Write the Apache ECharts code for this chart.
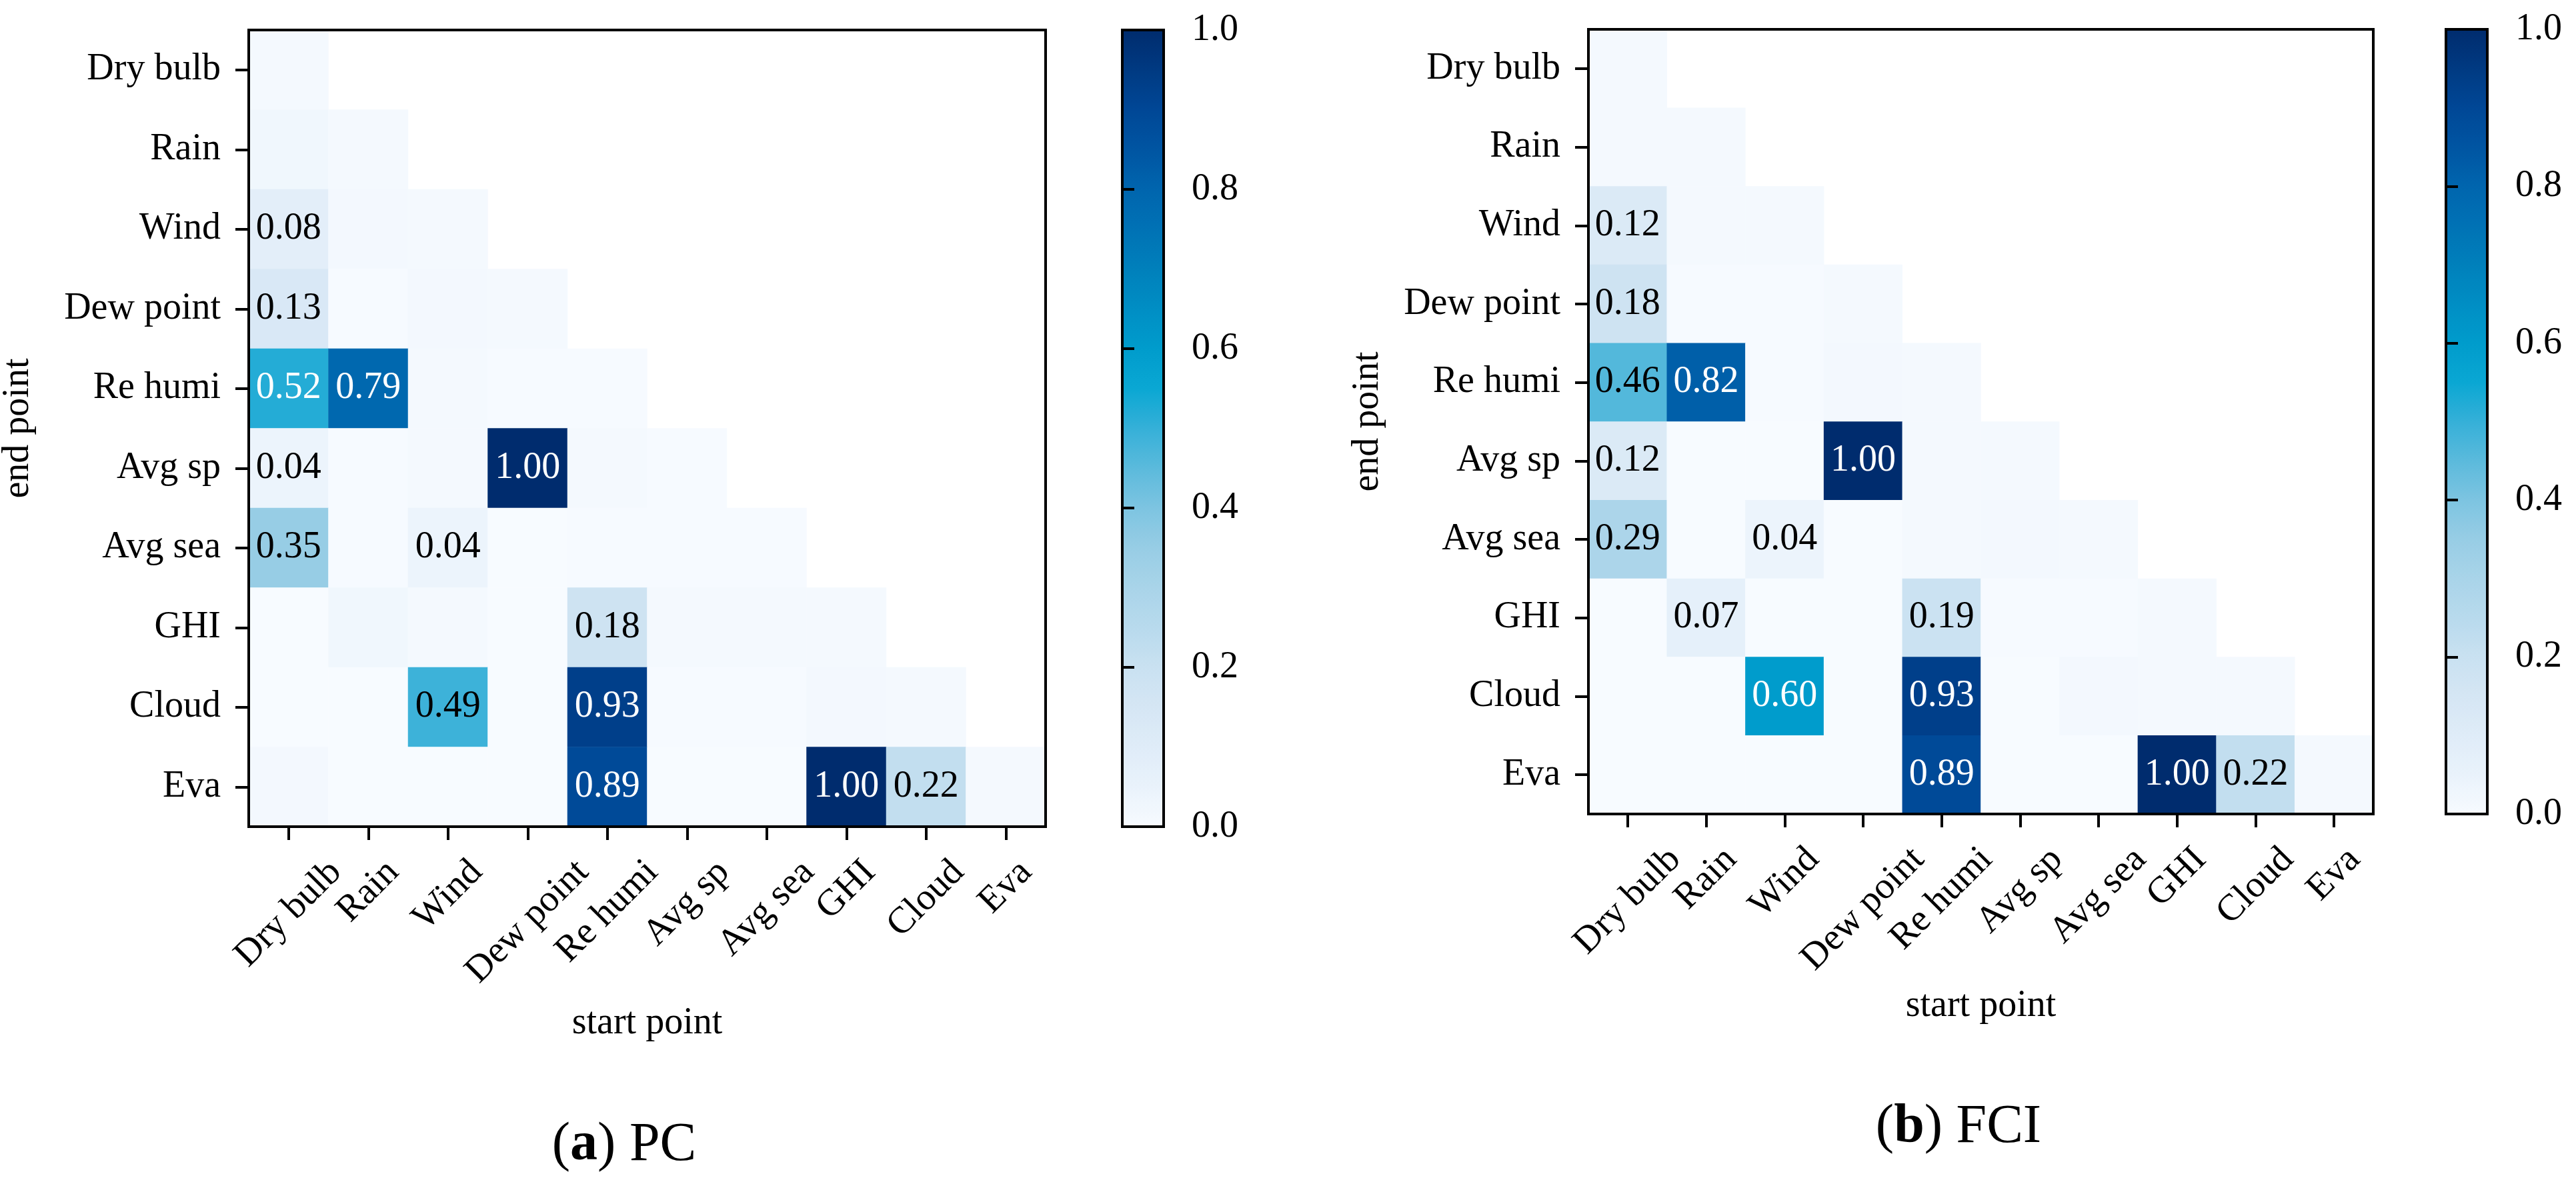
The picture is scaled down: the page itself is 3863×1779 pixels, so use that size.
<!DOCTYPE html>
<html><head><meta charset="utf-8">
<script src="https://cdn.jsdelivr.net/npm/echarts@6/dist/echarts.min.js"></script>
<style>html,body{margin:0;padding:0;background:#fff}#c{width:3863px;height:1779px}</style>
</head><body><div id="c"></div>
<script>
// ---------------- data ----------------
const categories = ['Dry bulb', 'Rain', 'Wind', 'Dew point', 'Re humi', 'Avg sp', 'Avg sea', 'GHI', 'Cloud', 'Eva'];

// lower-triangular matrices: row = end point, column = start point
const pcValues = [
  [0.01],
  [0.025, 0.01],
  [0.08, 0.015, 0.01],
  [0.13, 0.005, 0.015, 0.01],
  [0.52, 0.79, 0.01, 0.005, 0.005],
  [0.04, 0.005, 0.01, 1.00, 0.01, 0.005],
  [0.35, 0.005, 0.04, 0.0, 0.005, 0.005, 0.005],
  [0.0, 0.025, 0.01, 0.0, 0.18, 0.01, 0.01, 0.01],
  [0.0, 0.0, 0.49, 0.0, 0.93, 0.005, 0.005, 0.015, 0.01],
  [0.015, 0.0, 0.0, 0.0, 0.89, 0.0, 0.0, 1.00, 0.22, 0.01]
];
const fciValues = [
  [0.01],
  [0.01, 0.01],
  [0.12, 0.01, 0.01],
  [0.18, 0.005, 0.005, 0.01],
  [0.46, 0.82, 0.005, 0.015, 0.01],
  [0.12, 0.0, 0.0, 1.00, 0.01, 0.01],
  [0.29, 0.0, 0.04, 0.0, 0.01, 0.015, 0.01],
  [0.0, 0.07, 0.0, 0.0, 0.19, 0.005, 0.005, 0.01],
  [0.0, 0.0, 0.60, 0.0, 0.93, 0.0, 0.015, 0.01, 0.01],
  [0.0, 0.0, 0.0, 0.0, 0.89, 0.0, 0.0, 1.00, 0.22, 0.01]
];
const panelMatrices = [pcValues, fciValues];
const panelLetters = ['a', 'b'];
const panelNames = ['PC', 'FCI'];
const xAxisTitle = 'start point';
const yAxisTitle = 'end point';
const colorbarMin = 0, colorbarMax = 1, colorbarStep = 0.2;
const labelThreshold = 0.035;

// ---------------- style ----------------
const FONT = '"Liberation Serif", "Times New Roman", serif';
const FS = 56;
const cmap = ['#f7fbff','#e9f2fb','#dfecf8','#d5e6f4','#c9e1f1','#b8daed','#a9d4e9','#97cde5','#7dc4e1','#5bbadc',
  '#35b0d8','#0aa7d3','#009ccc','#008ec4','#0080bb','#0072b5','#0065ae','#0055a2','#004796','#003a82','#002c6e'];
const layout = [
  {left: 373, top: 45, size: 1195, cbLeft: 1683, cbWidth: 62, nameGapY: 318, nameGapX: 267, capX: 936, capY: 1718},
  {left: 2382, top: 44, size: 1177, cbLeft: 3668, cbWidth: 62, nameGapY: 303, nameGapX: 260, capX: 2937, capY: 1691}
];
const TICK_TOP = 38, TXT_H = 62;

function cells(mat) {
  const out = [];
  mat.forEach((row, i) => row.forEach((v, j) => {
    out.push({value: [j, i, v], label: {color: v > 0.5 ? '#ffffff' : '#000000'}});
  }));
  return out;
}

const blackLine = {show: true, lineStyle: {color: '#000', width: 4}};
const grids = [], xAxes = [], yAxes = [], series = [], visualMaps = [], titles = [];
layout.forEach((L, k) => {
  grids.push({left: L.left, top: L.top, width: L.size, height: L.size, show: true, borderColor: '#000', borderWidth: 4,
    backgroundColor: 'transparent', z: 10, containLabel: false, outerBoundsMode: 'none'});
  xAxes.push({type: 'category', gridIndex: k, data: categories, z: 10,
    name: xAxisTitle, nameLocation: 'middle', nameGap: L.nameGapX, nameMoveOverlap: false,
    nameTextStyle: {fontFamily: FONT, fontSize: FS, color: '#000'},
    axisLine: blackLine, axisTick: {show: true, alignWithLabel: true, length: 20, lineStyle: {color: '#000', width: 4}},
    axisLabel: {show: false, interval: 0},
    splitLine: {show: false}});
  yAxes.push({type: 'category', gridIndex: k, data: categories, inverse: true, z: 10,
    name: yAxisTitle, nameLocation: 'middle', nameGap: L.nameGapY, nameRotate: 90, nameMoveOverlap: false,
    nameTextStyle: {fontFamily: FONT, fontSize: FS, color: '#000'},
    axisLine: blackLine, axisTick: {show: true, alignWithLabel: true, length: 20, lineStyle: {color: '#000', width: 4}},
    axisLabel: {interval: 0, margin: 42, fontFamily: FONT, fontSize: FS, color: '#000'},
    splitLine: {show: false}});
  series.push({type: 'heatmap', xAxisIndex: k, yAxisIndex: k, data: cells(panelMatrices[k]),
    itemStyle: {borderWidth: 0},
    label: {show: true, fontFamily: FONT, fontSize: FS,
      formatter: p => (p.value[2] >= labelThreshold ? p.value[2].toFixed(2) : '')},
    emphasis: {disabled: true}, progressive: 0, animation: false});
  visualMaps.push({type: 'continuous', seriesIndex: k, min: colorbarMin, max: colorbarMax, calculable: false,
    orient: 'vertical', left: L.cbLeft, top: L.top, itemWidth: L.cbWidth, itemHeight: L.size, padding: 0,
    hoverLink: false, inRange: {color: cmap}});
  titles.push({text: '({b|' + panelLetters[k] + '}) ' + panelNames[k], left: L.capX, top: L.capY,
    textAlign: 'center', textVerticalAlign: 'middle', padding: 0,
    textStyle: {fontFamily: FONT, fontSize: 82, fontWeight: 'normal', color: '#000',
      rich: {b: {fontFamily: FONT, fontSize: 82, fontWeight: 'bold', color: '#000'}}}});
});
// colorbar axes
layout.forEach((L, k) => {
  grids.push({left: L.cbLeft, top: L.top, width: L.cbWidth, height: L.size, show: true, borderColor: '#000',
    borderWidth: 4, backgroundColor: 'transparent', z: 10, containLabel: false, outerBoundsMode: 'none'});
  xAxes.push({type: 'value', gridIndex: 2 + k, min: 0, max: 1, show: false});
  yAxes.push({type: 'value', gridIndex: 2 + k, min: colorbarMin, max: colorbarMax, interval: colorbarStep,
    position: 'right', z: 10, axisLine: blackLine,
    axisTick: {show: true, length: 18, lineStyle: {color: '#000', width: 4}},
    axisLabel: {margin: 42, fontFamily: FONT, fontSize: FS, color: '#000', formatter: v => v.toFixed(1)},
    splitLine: {show: false}});
});

const chart = echarts.init(document.getElementById('c'), null, {renderer: 'canvas'});
chart.setOption({
  animation: false,
  backgroundColor: '#ffffff',
  title: titles,
  grid: grids,
  xAxis: xAxes,
  yAxis: yAxes,
  visualMap: visualMaps,
  series: series
});

// rotated x tick labels (matplotlib style: rotated box centred under each tick), placed with the axis scale
const ctx = document.createElement('canvas').getContext('2d');
ctx.font = FS + 'px ' + FONT;
const tickTexts = [];
layout.forEach((L, k) => {
  const axisY = L.top + L.size;
  categories.forEach((c, j) => {
    const px = chart.convertToPixel({xAxisIndex: k}, c);
    const w = ctx.measureText(c).width;
    tickTexts.push({type: 'text', silent: true, z: 20,
      x: px, y: axisY + TICK_TOP + 0.3536 * (w + TXT_H), rotation: Math.PI / 4,
      style: {text: c, fontFamily: FONT, fontSize: FS, fill: '#000', align: 'center', verticalAlign: 'middle'}});
  });
});
chart.setOption({graphic: tickTexts});
</script></body></html>
